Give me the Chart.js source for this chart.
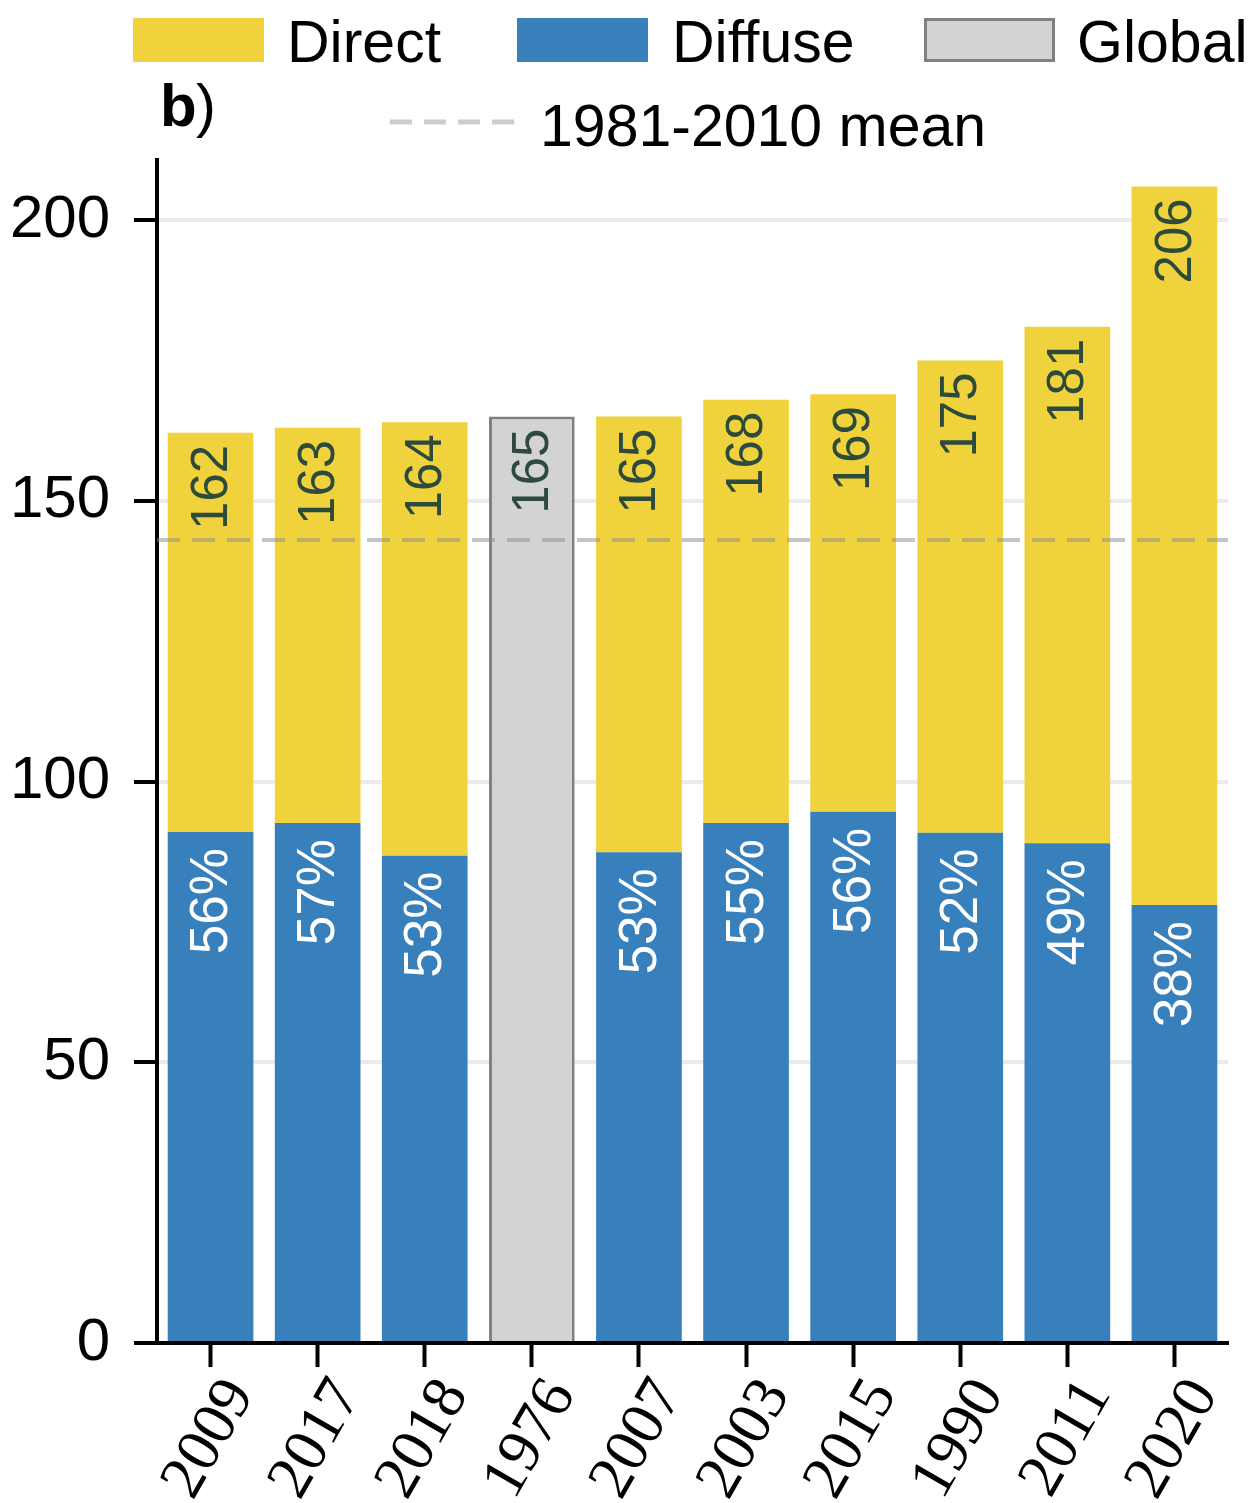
<!DOCTYPE html>
<html>
<head>
<meta charset="utf-8">
<script src="https://cdn.jsdelivr.net/npm/chart.js@4"></script>
<style>
  html, body { margin: 0; padding: 0; background: #fff; }
  canvas { display: block; }
</style>
</head>
<body>
<canvas id="sunChart" width="1257" height="1503"></canvas>
<script>
'use strict'

const years = ['2009', '2017', '2018', '1976', '2007', '2003', '2015', '1990', '2011', '2020'];
const diffuseValues = [91.0, 92.6, 86.8, null, 87.4, 92.6, 94.6, 90.9, 89.0, 78.0];
const directValues = [71.1, 70.4, 77.2, null, 77.6, 75.4, 74.4, 84.1, 92.0, 128.0];
const globalValues = [null, null, null, 165, null, null, null, null, null, null];
const totalLabels = ['162', '163', '164', '165', '165', '168', '169', '175', '181', '206'];
const diffuseShareLabels = ['56%', '57%', '53%', '', '53%', '55%', '56%', '52%', '49%', '38%'];
const meanValue = 143;

const yellow = 'rgb(240,210,60)';
const blue = 'rgb(56,128,188)';
const grey = 'rgb(211,211,211)';
const greyEdge = 'rgb(128,128,128)';
const sans = "'Liberation Sans', Arial, sans-serif";
const serif = "'Liberation Serif', 'Times New Roman', serif";

Chart.defaults.font.family = sans;
Chart.defaults.color = '#000';

function drawVertical(ctx, text, x, y, color, size) {
    ctx.save();
    ctx.translate(x, y);
    ctx.rotate(-Math.PI / 2);
    ctx.font = size + 'px ' + sans;
    ctx.fillStyle = color;
    ctx.textAlign = 'right';
    ctx.textBaseline = 'middle';
    ctx.fillText(text, 0, 2);
    ctx.restore();
}

const annotations = {
    id: 'annotations',
    afterDatasetsDraw(chart) {
        const ctx = chart.ctx;
        const area = chart.chartArea;
        const my = chart.scales.y.getPixelForValue(meanValue);

        // 1981-2010 mean
        ctx.save();
        ctx.strokeStyle = 'rgba(140,140,140,0.5)';
        ctx.lineWidth = 4;
        ctx.setLineDash([23, 12]);
        ctx.beginPath();
        ctx.moveTo(area.left, my);
        ctx.lineTo(area.right, my);
        ctx.stroke();
        ctx.restore();

        const diffuseMeta = chart.getDatasetMeta(0);
        const directMeta = chart.getDatasetMeta(1);
        const globalMeta = chart.getDatasetMeta(2);
        years.forEach((yr, i) => {
            const top = globalValues[i] != null ? globalMeta.data[i] : directMeta.data[i];
            drawVertical(ctx, totalLabels[i], top.x, top.y + 12, 'rgb(45,75,60)', 51);
            if (diffuseShareLabels[i]) {
                const el = diffuseMeta.data[i];
                drawVertical(ctx, diffuseShareLabels[i], el.x, el.y + 16, '#fff', 53);
            }
        });
    },
    afterDraw(chart) {
        const ctx = chart.ctx;
        ctx.save();
        // legend row 1
        const boxes = [
            { x: 133, fill: yellow, edge: null, text: 'Direct', tx: 287 },
            { x: 517, fill: blue, edge: null, text: 'Diffuse', tx: 672 },
            { x: 924, fill: grey, edge: greyEdge, text: 'Global', tx: 1077 }
        ];
        ctx.font = '59px ' + sans;
        ctx.textBaseline = 'alphabetic';
        ctx.textAlign = 'left';
        boxes.forEach(b => {
            ctx.fillStyle = b.fill;
            ctx.fillRect(b.x, 18, 131, 44);
            if (b.edge) {
                ctx.strokeStyle = b.edge;
                ctx.lineWidth = 3;
                ctx.strokeRect(b.x + 1.5, 19.5, 128, 41);
            }
            ctx.fillStyle = '#000';
            ctx.fillText(b.text, b.tx, 62);
        });
        // legend row 2
        ctx.strokeStyle = 'rgb(205,205,205)';
        ctx.lineWidth = 5;
        ctx.setLineDash([22, 12]);
        ctx.beginPath();
        ctx.moveTo(390, 122);
        ctx.lineTo(518, 122);
        ctx.stroke();
        ctx.setLineDash([]);
        ctx.fillStyle = '#000';
        ctx.fillText('1981-2010 mean', 540, 146);
        // panel tag
        ctx.font = 'bold 60px ' + sans;
        ctx.fillText('b', 160, 126);
        ctx.font = '60px ' + sans;
        ctx.fillText(')', 196, 126);
        ctx.restore();
    }
};

const data = {
    labels: years,
    datasets: [
        {
            label: 'Diffuse',
            data: diffuseValues,
            backgroundColor: blue,
            borderWidth: 0
        },
        {
            label: 'Direct',
            data: directValues,
            backgroundColor: yellow,
            borderWidth: 0
        },
        {
            label: 'Global',
            data: globalValues,
            backgroundColor: grey,
            borderColor: greyEdge,
            borderWidth: 3
        }
    ]
};

const config = {
    type: 'bar',
    data: data,
    options: {
        responsive: false,
        animation: false,
        devicePixelRatio: 1,
        barPercentage: 0.8,
        categoryPercentage: 1,
        layout: { padding: { top: 160, right: 29, left: 0, bottom: 0 } },
        plugins: {
            legend: { display: false },
            tooltip: { enabled: false }
        },
        scales: {
            x: {
                stacked: true,
                grid: {
                    drawOnChartArea: false,
                    offset: false,
                    tickLength: 24,
                    tickColor: '#000',
                    tickWidth: 4
                },
                border: { color: '#000', width: 4 },
                ticks: {
                    font: { family: serif, size: 62 },
                    color: '#000',
                    autoSkip: false,
                    minRotation: 60,
                    maxRotation: 60,
                    labelOffset: 30,
                    padding: 0
                },
                afterFit: s => { s.height = 160; }
            },
            y: {
                stacked: true,
                min: 0,
                max: 210.7,
                grid: {
                    color: 'rgb(235,235,235)',
                    lineWidth: 4,
                    tickLength: 23,
                    tickColor: '#000',
                    tickWidth: 4
                },
                border: { color: '#000', width: 4 },
                ticks: {
                    stepSize: 50,
                    includeBounds: false,
                    font: { size: 60 },
                    color: '#000',
                    padding: 24
                },
                afterFit: s => { s.width = 157; }
            }
        }
    },
    plugins: [annotations]
};

const sunChart = new Chart(document.getElementById('sunChart'), config);
</script>
</body>
</html>
